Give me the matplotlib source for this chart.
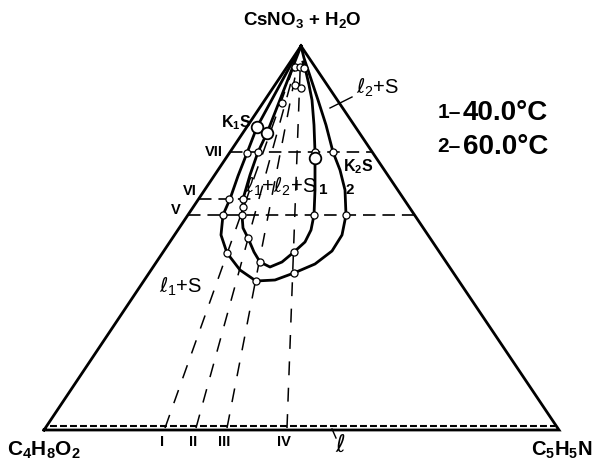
import numpy as np
import matplotlib
matplotlib.use("Agg")
from matplotlib import pyplot as plt

plt.rcParams["font.family"] = ["Liberation Sans", "DejaVu Sans"]
plt.rcParams["mathtext.default"] = "regular"
plt.rcParams["lines.scale_dashes"] = False

# corners of the composition triangle (drawing units, y grows downwards)
apex = (301, 46)
left = (44, 430)
right = (559, 430)

# isotherm 1 (40 C): tie line apex -> K1, then binodal down and back up to the top
curve1_x = [301, 267, 258, 250, 243, 243, 242, 243, 248, 254, 260, 270, 282, 294, 305, 311, 314, 315, 315, 315, 314, 312, 309, 306, 303]
curve1_y = [46, 133, 152, 175, 199, 207, 215, 228, 238, 252, 262, 267, 262, 252, 242, 230, 215, 190, 158, 152, 125, 100, 85, 72, 62]

# isotherm 2 (60 C)
curve2_x = [301, 257, 247, 238, 230, 223, 221, 227, 240, 256, 275, 294, 315, 332, 342, 346, 345, 340, 333, 326, 318, 310, 304, 301]
curve2_y = [46, 127, 153, 176, 199, 215, 235, 253, 270, 281, 280, 273, 264, 251, 235, 215, 190, 170, 152, 125, 100, 76, 58, 46]

# sections from the apex to the base points
section_names = ["I", "II", "III", "IV"]
section_base = [165, 196, 227, 287]

# horizontal sections: level, right end (None = triangle side)
level_names = ["VII", "VI", "V"]
level_y = [152, 199, 215]
level_xmax = [None, 256, None]
level_label_xy = [(223, 152), (197, 191), (181, 210)]

# experimental points
pts_x = [247, 258, 315, 333, 229, 243, 243, 223, 242, 314, 346, 248, 227, 260, 294, 256, 294,
         295, 300, 304, 295, 301, 282]
pts_y = [153, 152, 152, 152, 199, 199, 207, 215, 215, 215, 215, 238, 253, 262, 252, 281, 273,
         67, 67, 68, 85, 88, 103]
big_x = [257, 267, 315]
big_y = [127, 133, 158]

temps = ["40.0°C", "60.0°C"]

L = r"\mathit{ℓ}"


def side_x(y, corner):
    t = (y - apex[1]) / (corner[1] - apex[1])
    return apex[0] + t * (corner[0] - apex[0])


fig = plt.figure(figsize=(5.96, 4.62), dpi=100)
ax = fig.add_axes([0, 0, 1, 1])
ax.set_xlim(0, 596)
ax.set_ylim(462, 0)
ax.axis("off")

# sections I-IV (dashed rays towards the apex)
for name, bx in zip(section_names, section_base):
    t = 0.95
    ax.plot([bx, bx + t * (apex[0] - bx)], [428, 428 + t * (apex[1] - 428)],
            color="black", lw=1.1, dashes=(10, 9), zorder=2)
    ax.text(bx - 3, 442, name, ha="center", va="center", fontsize=10.5, fontweight="bold")

# horizontal sections V-VII
for name, y, xmax, (lx, ly) in zip(level_names, level_y, level_xmax, level_label_xy):
    x0 = side_x(y, left)
    x1 = side_x(y, right) if xmax is None else xmax
    ax.plot([x0, x1], [y, y], color="black", lw=1.2, dashes=(9, 5), zorder=2)
    ax.text(lx, ly, name, ha="right", va="center", fontsize=10.5, fontweight="bold")

# triangle and the liquid line along the base
ax.plot([left[0], apex[0], right[0], left[0]], [left[1], apex[1], right[1], left[1]],
        color="black", lw=2.0, solid_joinstyle="miter", zorder=3)
ax.plot([left[0] + 6, right[0] - 4], [426, 426], color="black", lw=1.5, dashes=(5, 2.2), zorder=3)

# isotherms
ax.plot(curve1_x, curve1_y, color="black", lw=2.0, solid_joinstyle="round", zorder=4)
ax.plot(curve2_x, curve2_y, color="black", lw=2.0, solid_joinstyle="round", zorder=4)

ax.scatter(pts_x, pts_y, s=26, facecolor="white", edgecolor="black", linewidth=0.9, zorder=5)
ax.scatter(big_x, big_y, s=70, facecolor="white", edgecolor="black", linewidth=1.3, zorder=5)

# leaders
ax.plot([352, 330], [97, 108], color="black", lw=1.0)
ax.plot([332, 336], [429, 438], color="black", lw=1.0)

# labels
ax.text(302, 20, "CsNO$_3$ + H$_2$O", ha="center", va="center", fontsize=13.5, fontweight="bold")
ax.text(44, 450, "C$_4$H$_8$O$_2$", ha="center", va="center", fontsize=15, fontweight="bold")
ax.text(562, 450, "C$_5$H$_5$N", ha="center", va="center", fontsize=14.5, fontweight="bold")
ax.text(236, 123, "K$_1$S", ha="center", va="center", fontsize=11.5, fontweight="bold")
ax.text(358, 167, "K$_2$S", ha="center", va="center", fontsize=11.5, fontweight="bold")
ax.text(323, 190, "1", ha="center", va="center", fontsize=11, fontweight="bold")
ax.text(350, 190, "2", ha="center", va="center", fontsize=11, fontweight="bold")
ax.text(281, 187, f"${L}_1$+${L}_2$+S", ha="center", va="center", fontsize=14.5)
ax.text(181, 287, f"${L}_1$+S", ha="center", va="center", fontsize=14.5)
ax.text(378, 88, f"${L}_2$+S", ha="center", va="center", fontsize=14.5)
ax.text(340, 446, f"${L}$", ha="center", va="center", fontsize=17)

for i, (lab, y) in enumerate(zip(temps, [113, 147])):
    ax.text(461, y, f"{i + 1}–", ha="right", va="center", fontsize=15, fontweight="bold")
    ax.text(463, y, lab, ha="left", va="center", fontsize=20, fontweight="bold")

fig.savefig("out.png", dpi=100)
